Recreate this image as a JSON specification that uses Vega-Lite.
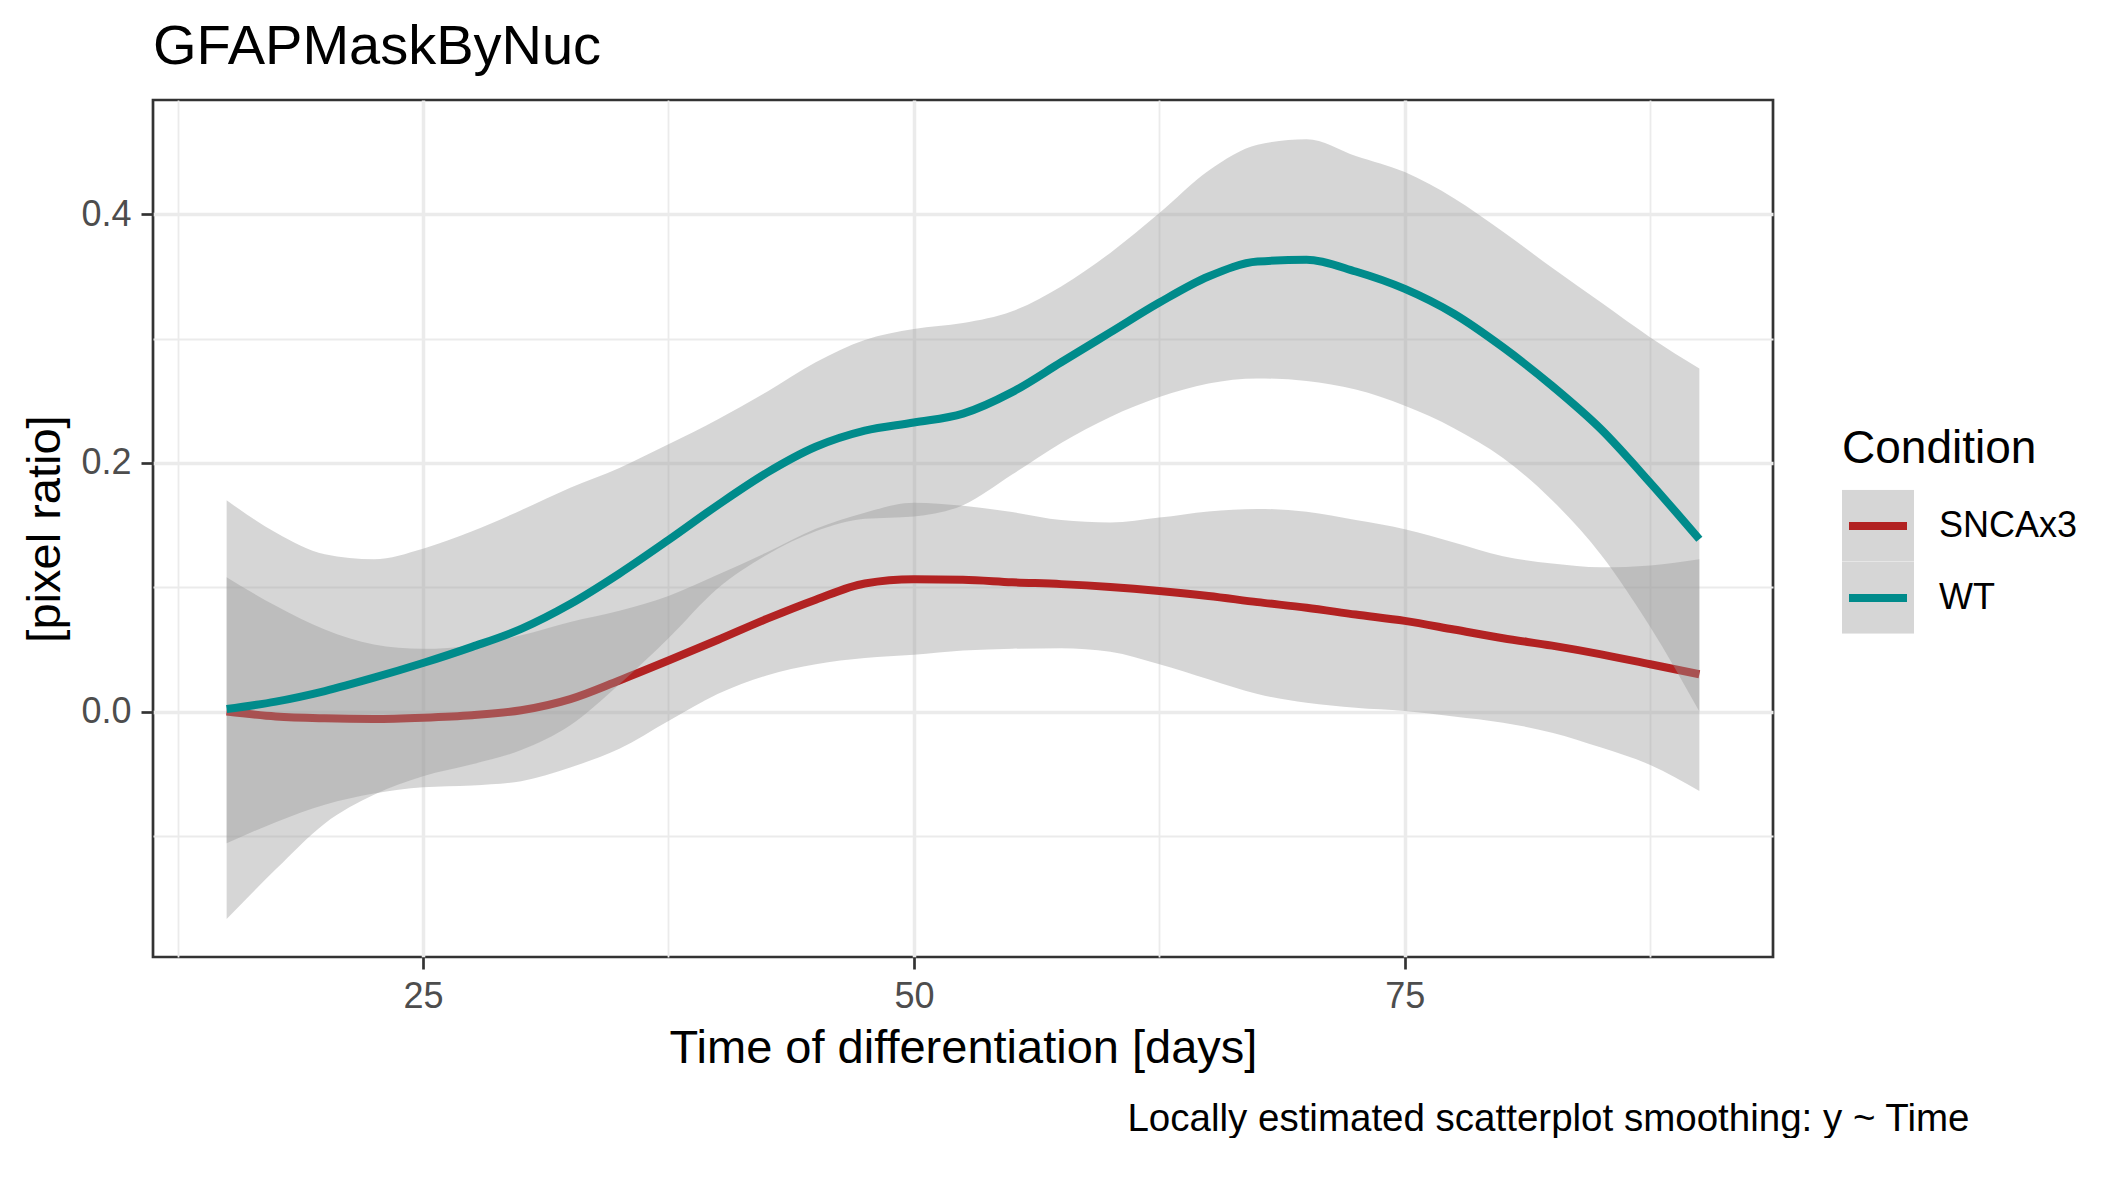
{
  "$schema": "https://vega.github.io/schema/vega-lite/v6.json",
  "width": 1620,
  "height": 857,
  "padding": {"left": 21, "top": 19, "right": 0, "bottom": 0},
  "background": "white",
  "title": {"text": "GFAPMaskByNuc", "anchor": "start", "frame": "group", "fontSize": 56, "fontWeight": "normal", "color": "black", "offset": 24},
  "config": {
    "font": "Liberation Sans",
    "view": {"stroke": "#333333", "strokeWidth": 2.7},
    "axis": {"labelFont": "Liberation Sans", "titleFont": "Liberation Sans"},
    "legend": {"labelFont": "Liberation Sans", "titleFont": "Liberation Sans"}
  },
  "data": {"values": [
    {"Time": 15, "Condition": "SNCAx3", "fit": 0.000, "lo": -0.106, "hi": 0.108},
    {"Time": 17.5, "Condition": "SNCAx3", "fit": -0.004, "lo": -0.089, "hi": 0.085},
    {"Time": 20, "Condition": "SNCAx3", "fit": -0.0055, "lo": -0.075, "hi": 0.066},
    {"Time": 22.5, "Condition": "SNCAx3", "fit": -0.006, "lo": -0.066, "hi": 0.054},
    {"Time": 25, "Condition": "SNCAx3", "fit": -0.005, "lo": -0.061, "hi": 0.0505},
    {"Time": 27.5, "Condition": "SNCAx3", "fit": -0.003, "lo": -0.0595, "hi": 0.053},
    {"Time": 30, "Condition": "SNCAx3", "fit": 0.001, "lo": -0.056, "hi": 0.0613},
    {"Time": 32.5, "Condition": "SNCAx3", "fit": 0.010, "lo": -0.045, "hi": 0.072},
    {"Time": 35, "Condition": "SNCAx3", "fit": 0.025, "lo": -0.030, "hi": 0.081},
    {"Time": 37.5, "Condition": "SNCAx3", "fit": 0.041, "lo": -0.0077, "hi": 0.093},
    {"Time": 40, "Condition": "SNCAx3", "fit": 0.0575, "lo": 0.014, "hi": 0.110},
    {"Time": 42.5, "Condition": "SNCAx3", "fit": 0.0745, "lo": 0.029, "hi": 0.128},
    {"Time": 45, "Condition": "SNCAx3", "fit": 0.090, "lo": 0.038, "hi": 0.147},
    {"Time": 47.5, "Condition": "SNCAx3", "fit": 0.103, "lo": 0.043, "hi": 0.160},
    {"Time": 50, "Condition": "SNCAx3", "fit": 0.1064, "lo": 0.0456, "hi": 0.168},
    {"Time": 52.5, "Condition": "SNCAx3", "fit": 0.106, "lo": 0.049, "hi": 0.1655},
    {"Time": 55, "Condition": "SNCAx3", "fit": 0.104, "lo": 0.0505, "hi": 0.1605},
    {"Time": 57.5, "Condition": "SNCAx3", "fit": 0.1025, "lo": 0.051, "hi": 0.154},
    {"Time": 60, "Condition": "SNCAx3", "fit": 0.1002, "lo": 0.048, "hi": 0.152},
    {"Time": 62.5, "Condition": "SNCAx3", "fit": 0.097, "lo": 0.038, "hi": 0.156},
    {"Time": 65, "Condition": "SNCAx3", "fit": 0.093, "lo": 0.026, "hi": 0.161},
    {"Time": 67.5, "Condition": "SNCAx3", "fit": 0.088, "lo": 0.014, "hi": 0.163},
    {"Time": 70, "Condition": "SNCAx3", "fit": 0.0835, "lo": 0.007, "hi": 0.1607},
    {"Time": 72.5, "Condition": "SNCAx3", "fit": 0.078, "lo": 0.003, "hi": 0.154},
    {"Time": 75, "Condition": "SNCAx3", "fit": 0.0729, "lo": 0.0004, "hi": 0.1467},
    {"Time": 77.5, "Condition": "SNCAx3", "fit": 0.066, "lo": -0.004, "hi": 0.136},
    {"Time": 80, "Condition": "SNCAx3", "fit": 0.059, "lo": -0.009, "hi": 0.125},
    {"Time": 82.5, "Condition": "SNCAx3", "fit": 0.053, "lo": -0.017, "hi": 0.119},
    {"Time": 85, "Condition": "SNCAx3", "fit": 0.046, "lo": -0.029, "hi": 0.116},
    {"Time": 87.5, "Condition": "SNCAx3", "fit": 0.038, "lo": -0.043, "hi": 0.1175},
    {"Time": 90, "Condition": "SNCAx3", "fit": 0.030, "lo": -0.064, "hi": 0.1225},
    {"Time": 15, "Condition": "WT", "fit": 0.002, "lo": -0.167, "hi": 0.170},
    {"Time": 17.5, "Condition": "WT", "fit": 0.008, "lo": -0.127, "hi": 0.144},
    {"Time": 20, "Condition": "WT", "fit": 0.0165, "lo": -0.090, "hi": 0.1265},
    {"Time": 22.5, "Condition": "WT", "fit": 0.0272, "lo": -0.067, "hi": 0.1225},
    {"Time": 25, "Condition": "WT", "fit": 0.039, "lo": -0.052, "hi": 0.131},
    {"Time": 27.5, "Condition": "WT", "fit": 0.052, "lo": -0.0425, "hi": 0.145},
    {"Time": 30, "Condition": "WT", "fit": 0.0665, "lo": -0.031, "hi": 0.162},
    {"Time": 32.5, "Condition": "WT", "fit": 0.0865, "lo": -0.011, "hi": 0.180},
    {"Time": 35, "Condition": "WT", "fit": 0.111, "lo": 0.022, "hi": 0.196},
    {"Time": 37.5, "Condition": "WT", "fit": 0.138, "lo": 0.059, "hi": 0.215},
    {"Time": 40, "Condition": "WT", "fit": 0.166, "lo": 0.099, "hi": 0.235},
    {"Time": 42.5, "Condition": "WT", "fit": 0.192, "lo": 0.126, "hi": 0.257},
    {"Time": 45, "Condition": "WT", "fit": 0.213, "lo": 0.145, "hi": 0.281},
    {"Time": 47.5, "Condition": "WT", "fit": 0.226, "lo": 0.155, "hi": 0.299},
    {"Time": 50, "Condition": "WT", "fit": 0.2325, "lo": 0.157, "hi": 0.3077},
    {"Time": 52.5, "Condition": "WT", "fit": 0.2397, "lo": 0.166, "hi": 0.3125},
    {"Time": 55, "Condition": "WT", "fit": 0.257, "lo": 0.1906, "hi": 0.322},
    {"Time": 57.5, "Condition": "WT", "fit": 0.281, "lo": 0.216, "hi": 0.342},
    {"Time": 60, "Condition": "WT", "fit": 0.305, "lo": 0.237, "hi": 0.369},
    {"Time": 62.5, "Condition": "WT", "fit": 0.329, "lo": 0.253, "hi": 0.401},
    {"Time": 65, "Condition": "WT", "fit": 0.350, "lo": 0.264, "hi": 0.435},
    {"Time": 67.5, "Condition": "WT", "fit": 0.362, "lo": 0.268, "hi": 0.456},
    {"Time": 70, "Condition": "WT", "fit": 0.3635, "lo": 0.266, "hi": 0.4605},
    {"Time": 72.5, "Condition": "WT", "fit": 0.354, "lo": 0.259, "hi": 0.447},
    {"Time": 75, "Condition": "WT", "fit": 0.340, "lo": 0.246, "hi": 0.434},
    {"Time": 77.5, "Condition": "WT", "fit": 0.320, "lo": 0.228, "hi": 0.413},
    {"Time": 80, "Condition": "WT", "fit": 0.293, "lo": 0.204, "hi": 0.386},
    {"Time": 82.5, "Condition": "WT", "fit": 0.262, "lo": 0.170, "hi": 0.357},
    {"Time": 85, "Condition": "WT", "fit": 0.227, "lo": 0.126, "hi": 0.329},
    {"Time": 87.5, "Condition": "WT", "fit": 0.184, "lo": 0.068, "hi": 0.301},
    {"Time": 90, "Condition": "WT", "fit": 0.1386, "lo": 0.000, "hi": 0.276}
  ]},
  "resolve": {"axis": {"x": "independent"}},
  "layer": [
    {
      "transform": [{"filter": "datum.Condition === 'SNCAx3'"}],
      "mark": {"type": "area", "opacity": 0.4, "interpolate": "monotone"},
      "encoding": {
        "x": {"field": "Time", "type": "quantitative",
          "scale": {"domain": [11.25, 93.75], "nice": false, "zero": false},
          "axis": {
            "values": [12.5, 25, 37.5, 50, 62.5, 75, 87.5],
            "labelExpr": "datum.value % 25 === 0 ? datum.label : ''",
            "format": "d",
            "title": "Time of differentiation [days]",
            "titleFontSize": 47, "titleFontWeight": "normal", "titleColor": "black",
            "titleY": 105, "titleBaseline": "alphabetic",
            "labelFontSize": 36, "labelColor": "#4D4D4D", "labelPadding": 10,
            "labelOverlap": false, "labelFlush": false,
            "tickSize": 12, "tickWidth": 2.7, "tickColor": "#333333",
            "tickOpacity": {"condition": {"test": "datum.value % 25 === 0", "value": 1}, "value": 0},
            "gridColor": "#EBEBEB",
            "gridWidth": {"condition": {"test": "datum.value % 25 === 0", "value": 3.5}, "value": 1.8},
            "domain": false
          }
        },
        "y": {"field": "lo", "type": "quantitative",
          "scale": {"domain": [-0.1975, 0.492], "nice": false, "zero": false},
          "axis": {
            "values": [-0.1, 0, 0.1, 0.2, 0.3, 0.4],
            "format": ".1f",
            "labelExpr": "abs(round(datum.value * 10)) % 2 === 0 ? datum.label : ''",
            "title": "[pixel ratio]",
            "titleFontSize": 47, "titleFontWeight": "normal", "titleColor": "black",
            "titleX": -84, "titleY": 428.5,
            "labelFontSize": 36, "labelColor": "#4D4D4D", "labelPadding": 10,
            "labelOverlap": false, "labelFlush": false,
            "tickSize": 12, "tickWidth": 2.7, "tickColor": "#333333",
            "tickOpacity": {"condition": {"test": "abs(round(datum.value * 10)) % 2 === 0", "value": 1}, "value": 0},
            "gridColor": "#EBEBEB",
            "gridWidth": {"condition": {"test": "abs(round(datum.value * 10)) % 2 === 0", "value": 3.5}, "value": 1.8},
            "domain": false
          }
        },
        "y2": {"field": "hi"},
        "fill": {"field": "Condition", "type": "nominal",
          "scale": {"domain": ["SNCAx3", "WT"], "range": ["#999999", "#999999"]},
          "legend": {
            "orient": "none", "legendX": 1689, "legendY": 326.7,
            "title": "Condition", "titleFontSize": 46, "titleFontWeight": "normal", "titleColor": "black",
            "titleLimit": 600, "titlePadding": 17, "padding": 0,
            "symbolType": "square", "symbolSize": 5184, "symbolStrokeWidth": 0, "symbolOpacity": 0.4,
            "labelExpr": "''", "labelFontSize": 36, "rowPadding": 0, "clipHeight": 72
          }
        }
      }
    },
    {
      "transform": [{"filter": "datum.Condition === 'SNCAx3'"}],
      "mark": {"type": "line", "strokeWidth": 8, "interpolate": "monotone"},
      "encoding": {
        "x": {"field": "Time", "type": "quantitative", "scale": {"domain": [11.25, 93.75], "nice": false, "zero": false}, "axis": null},
        "y": {"field": "fit", "type": "quantitative", "scale": {"domain": [-0.1975, 0.492], "nice": false, "zero": false}},
        "color": {"field": "Condition", "type": "nominal",
          "scale": {"range": ["#B22222", "#008B8B"]},
          "legend": {
            "orient": "none", "legendX": 1692, "legendY": 390,
            "title": null, "padding": 0,
            "symbolType": "stroke", "symbolSize": 3364, "symbolStrokeWidth": 8,
            "labelFontSize": 36, "labelColor": "black", "labelOffset": 28, "rowPadding": 0, "clipHeight": 72
          }
        }
      }
    },
    {
      "transform": [{"filter": "datum.Condition === 'WT'"}],
      "mark": {"type": "area", "opacity": 0.4, "interpolate": "monotone"},
      "encoding": {
        "x": {"field": "Time", "type": "quantitative", "scale": {"domain": [11.25, 93.75], "nice": false, "zero": false}, "axis": null},
        "y": {"field": "lo", "type": "quantitative", "scale": {"domain": [-0.1975, 0.492], "nice": false, "zero": false}},
        "y2": {"field": "hi"},
        "fill": {"field": "Condition", "type": "nominal"}
      }
    },
    {
      "transform": [{"filter": "datum.Condition === 'WT'"}],
      "mark": {"type": "line", "strokeWidth": 8, "interpolate": "monotone"},
      "encoding": {
        "x": {"field": "Time", "type": "quantitative", "scale": {"domain": [11.25, 93.75], "nice": false, "zero": false},
          "axis": {
            "orient": "bottom", "grid": false, "labels": false, "ticks": false, "domain": false,
            "title": "Locally estimated scatterplot smoothing: y ~ Time",
            "titleFontSize": 38.5, "titleFontWeight": "normal", "titleColor": "black",
            "titleX": 1816, "titleY": 173, "titleAlign": "right", "titleBaseline": "alphabetic"
          }
        },
        "y": {"field": "fit", "type": "quantitative", "scale": {"domain": [-0.1975, 0.492], "nice": false, "zero": false}},
        "color": {"field": "Condition", "type": "nominal"}
      }
    }
  ]
}
